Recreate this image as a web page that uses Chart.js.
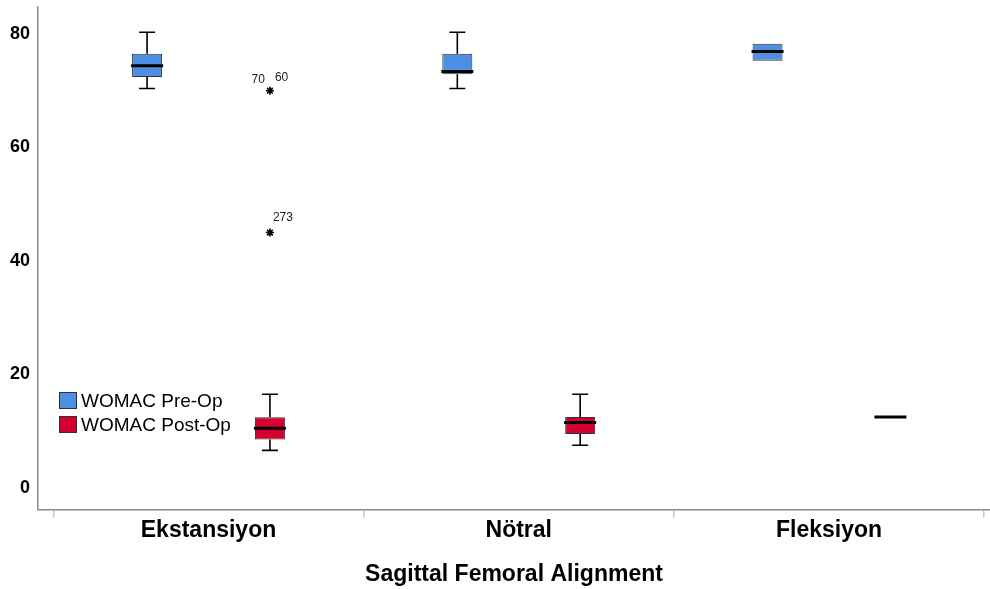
<!DOCTYPE html>
<html>
<head>
<meta charset="utf-8">
<script src="https://cdn.jsdelivr.net/npm/chart.js@4.4.1/dist/chart.umd.min.js"></script>
<style>
body { margin: 0; background: #fff; }
#wrap { width: 990px; height: 589px; }
</style>
</head>
<body>
<div id="wrap"><canvas id="myChart"></canvas></div>
<script>
const categories = ['Ekstansiyon', 'Nötral', 'Fleksiyon'];
const seriesNames = ['WOMAC Pre-Op', 'WOMAC Post-Op'];
const seriesColors = ['#4f8fe3', '#d4002d'];

// [min, q1, median, q3, max] for each category
const preOpStats = [
    [70.4, 72.4, 74.4, 76.5, 80.3],
    [70.4, 72.9, 73.4, 76.5, 80.3],
    [75.3, 75.3, 76.9, 78.3, 78.3]
];
const postOpStats = [
    [6.6, 8.5, 10.5, 12.45, 16.5],
    [7.5, 9.5, 11.5, 12.5, 16.5],
    [12.5, 12.5, 12.5, 12.5, 12.5]
];

// extreme cases of the post-op series
const outlierCategory = [0, 0];
const outlierValues = [70, 45];
const outlierIds = [['70', '60'], ['273']];

const yTicks = [0, 20, 40, 60, 80];
const xBoundaries = [-0.5, 0.5, 1.5, 2.5];

const GROUP_SHIFT = 0.198;
const FONT = "'Liberation Sans', Arial, sans-serif";

function boxData(stats, shift) {
    return stats.map((s, i) => ({ x: i + shift, y: [s[1], s[3]] }));
}

// whiskers, caps, medians and case labels on top of the floating bars
const boxPlotLines = {
    id: 'boxPlotLines',
    afterDatasetsDraw(chart) {
        const ctx = chart.ctx;
        const yScale = chart.scales.y;
        [preOpStats, postOpStats].forEach((stats, di) => {
            const meta = chart.getDatasetMeta(di);
            meta.data.forEach((bar, i) => {
                const [mn, q1, med, q3, mx] = stats[i];
                const cx = bar.x;
                const half = bar.width / 2;
                const cap = 8;
                ctx.save();
                ctx.strokeStyle = '#000';
                ctx.lineWidth = 1.6;
                ctx.beginPath();
                if (mx > q3) {
                    ctx.moveTo(cx, yScale.getPixelForValue(q3));
                    ctx.lineTo(cx, yScale.getPixelForValue(mx));
                    ctx.moveTo(cx - cap, yScale.getPixelForValue(mx));
                    ctx.lineTo(cx + cap, yScale.getPixelForValue(mx));
                }
                if (mn < q1) {
                    ctx.moveTo(cx, yScale.getPixelForValue(q1));
                    ctx.lineTo(cx, yScale.getPixelForValue(mn));
                    ctx.moveTo(cx - cap, yScale.getPixelForValue(mn));
                    ctx.lineTo(cx + cap, yScale.getPixelForValue(mn));
                }
                ctx.stroke();
                ctx.lineWidth = 3;
                ctx.beginPath();
                ctx.moveTo(cx - half - 1, yScale.getPixelForValue(med));
                ctx.lineTo(cx + half + 1, yScale.getPixelForValue(med));
                ctx.stroke();
                ctx.restore();
            });
        });

        const pts = chart.getDatasetMeta(2).data;
        ctx.save();
        ctx.fillStyle = '#222';
        ctx.font = '12px ' + FONT;
        ctx.textBaseline = 'middle';
        pts.forEach((pt, i) => {
            const ids = outlierIds[i];
            if (ids.length === 1) {
                ctx.textAlign = 'left';
                ctx.fillText(ids[0], pt.x + 3, pt.y - 15);
            } else {
                ctx.textAlign = 'right';
                ctx.fillText(ids[0], pt.x - 5, pt.y - 11);
                ctx.textAlign = 'left';
                ctx.fillText(ids[1], pt.x + 5, pt.y - 13);
            }
        });
        ctx.restore();
    }
};

// legend box in the lower left of the plot
const insideLegend = {
    id: 'insideLegend',
    afterDraw(chart) {
        const ctx = chart.ctx;
        const left = chart.chartArea.left + 21;
        const top = 392;
        ctx.save();
        ctx.font = '19px ' + FONT;
        ctx.textBaseline = 'middle';
        ctx.textAlign = 'left';
        seriesNames.forEach((name, i) => {
            const y = top + i * 24;
            ctx.fillStyle = seriesColors[i];
            ctx.fillRect(left, y, 18, 17);
            ctx.strokeStyle = '#333';
            ctx.lineWidth = 1;
            ctx.strokeRect(left + 0.5, y + 0.5, 17, 16);
            ctx.fillStyle = '#000';
            ctx.fillText(name, left + 22, y + 10);
        });
        ctx.restore();
    }
};

function drawChart() {
    const ctx = document.getElementById('myChart').getContext('2d');
    new Chart(ctx, {
        type: 'bar',
        data: {
            datasets: [{
                label: seriesNames[0],
                data: boxData(preOpStats, -GROUP_SHIFT),
                backgroundColor: seriesColors[0],
                borderColor: '#333',
                borderWidth: 1,
                borderSkipped: false,
                grouped: false,
                maxBarThickness: 30
            }, {
                label: seriesNames[1],
                data: boxData(postOpStats, GROUP_SHIFT),
                backgroundColor: seriesColors[1],
                borderColor: '#333',
                borderWidth: 1,
                borderSkipped: false,
                grouped: false,
                maxBarThickness: 30
            }, {
                type: 'scatter',
                label: 'outliers',
                data: outlierValues.map((v, i) => ({ x: outlierCategory[i] + GROUP_SHIFT, y: v })),
                pointStyle: 'star',
                radius: 4,
                borderWidth: 1.6,
                borderColor: '#000',
                backgroundColor: '#000'
            }]
        },
        options: {
            responsive: true,
            maintainAspectRatio: false,
            animation: false,
            devicePixelRatio: 1,
            layout: {
                autoPadding: false,
                padding: { top: 7, right: 0, bottom: 1, left: 0 }
            },
            scales: {
                x: {
                    type: 'linear',
                    offset: false,
                    min: -0.5496,
                    max: 2.519,
                    afterBuildTicks: (scale) => {
                        const vals = [];
                        xBoundaries.forEach((b, i) => {
                            vals.push(b);
                            if (i < categories.length) vals.push(i);
                        });
                        scale.ticks = vals.map(v => ({ value: v }));
                    },
                    afterFit: (scale) => {
                        scale.paddingLeft = 0;
                        scale.paddingRight = 0;
                    },
                    ticks: {
                        autoSkip: false,
                        maxRotation: 0,
                        padding: -1,
                        color: '#000',
                        font: { family: FONT, size: 23, weight: 'bold' },
                        callback: (v) => Number.isInteger(v) ? categories[v] : ''
                    },
                    grid: {
                        offset: false,
                        drawOnChartArea: false,
                        drawTicks: true,
                        tickLength: 8,
                        lineWidth: 1.5,
                        color: (c) => (c.tick && !Number.isInteger(c.tick.value)) ? '#c4c4c4' : 'rgba(0,0,0,0)'
                    },
                    border: { display: true, color: '#8a8a8a', width: 1.5 },
                    title: {
                        display: true,
                        text: 'Sagittal Femoral Alignment',
                        color: '#000',
                        font: { family: FONT, size: 23, weight: 'bold' },
                        padding: { top: 17, bottom: 0 }
                    }
                },
                y: {
                    min: -3.88,
                    max: 84.76,
                    afterBuildTicks: (scale) => {
                        scale.ticks = yTicks.map(v => ({ value: v }));
                    },
                    afterFit: (scale) => {
                        scale.width = 38;
                        scale.paddingTop = 0;
                        scale.paddingBottom = 0;
                    },
                    ticks: {
                        padding: 8,
                        color: '#000',
                        font: { family: FONT, size: 18, weight: 'bold' }
                    },
                    grid: { drawOnChartArea: false, drawTicks: false },
                    border: { display: true, color: '#8a8a8a', width: 1.5 }
                }
            },
            plugins: {
                legend: { display: false },
                tooltip: { enabled: false }
            }
        },
        plugins: [boxPlotLines, insideLegend]
    });
}

drawChart();
</script>
</body>
</html>
